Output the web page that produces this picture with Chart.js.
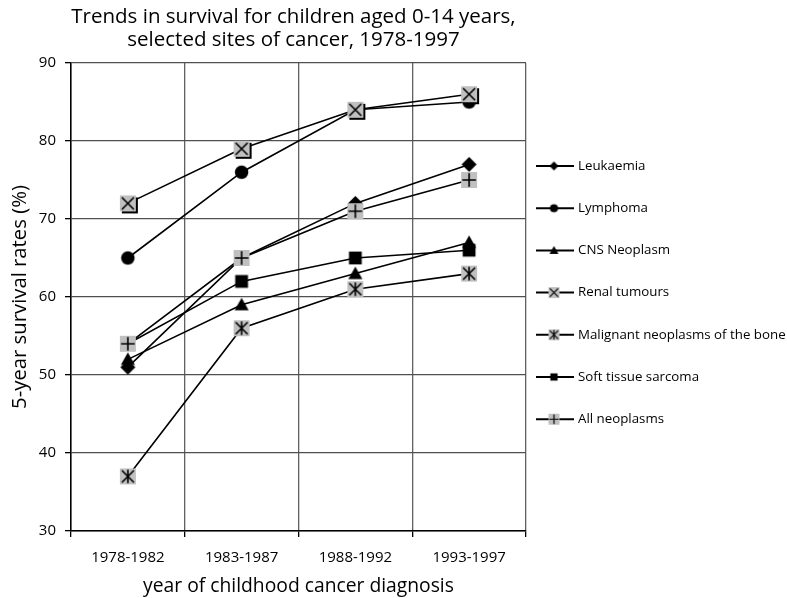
<!DOCTYPE html>
<html>
<head>
<meta charset="utf-8">
<script src="https://cdn.jsdelivr.net/npm/chart.js@4/dist/chart.umd.min.js"></script>
<style>
  html, body { margin: 0; padding: 0; background: #fff; }
  #wrap { width: 787px; height: 598px; }
</style>
</head>
<body>
<div id="wrap"><canvas id="c" width="787" height="598"></canvas></div>
<script>
const periods = ['1978-1982', '1983-1987', '1988-1992', '1993-1997'];
const leukaemia = [51, 65, 72, 77];
const lymphoma = [65, 76, 84, 85];
const cns = [52, 59, 63, 67];
const renal = [72, 79, 84, 86];
const bone = [37, 56, 61, 63];
const softTissue = [54, 62, 65, 66];
const allNeoplasms = [54, 65, 71, 75];
const yTicks = [30, 40, 50, 60, 70, 80, 90];
const titleLines = ['Trends in survival for children aged 0-14 years,', 'selected sites of cancer, 1978-1997'];

// draw a marker into its own little canvas so chart.js can use it as pointStyle
function makeMarker(type, s) {
  const pad = 3;
  const cv = document.createElement('canvas');
  cv.width = s + pad * 2; cv.height = s + pad * 2;
  const g = cv.getContext('2d');
  const c = cv.width / 2, h = s / 2;
  g.fillStyle = '#000'; g.strokeStyle = '#000';
  if (type == 'diamond') {
    g.beginPath(); g.moveTo(c, c - h); g.lineTo(c + h, c); g.lineTo(c, c + h); g.lineTo(c - h, c); g.closePath(); g.fill();
  } else if (type == 'circle') {
    g.beginPath(); g.arc(c, c, h * 0.9, 0, Math.PI * 2); g.fill();
  } else if (type == 'triangle') {
    g.beginPath(); g.moveTo(c, c - h); g.lineTo(c + h, c + h * 0.8); g.lineTo(c - h, c + h * 0.8); g.closePath(); g.fill();
  } else if (type == 'square') {
    g.fillRect(c - h * 0.8, c - h * 0.8, h * 1.6, h * 1.6);
  } else {
    // grey box with a glyph, renal one has a dark shadow in the plot
    if (type == 'xbox' && s > 12) { g.fillStyle = '#000'; g.fillRect(c - h + 2, c - h + 2, s, s); }
    g.fillStyle = '#c0c0c0';
    g.fillRect(c - h, c - h, s, s);
    g.lineWidth = s > 12 ? 1.6 : 1.2;
    const a = h * 0.75;
    g.beginPath();
    if (type == 'xbox' || type == 'star') {
      g.moveTo(c - a, c - a); g.lineTo(c + a, c + a);
      g.moveTo(c + a, c - a); g.lineTo(c - a, c + a);
    }
    if (type == 'star' || type == 'plus') {
      g.moveTo(c, c - h * 0.85); g.lineTo(c, c + h * 0.85);
    }
    if (type == 'plus') {
      g.moveTo(c - h * 0.85, c); g.lineTo(c + h * 0.85, c);
    }
    g.stroke();
  }
  return cv;
}

const series = [
  { label: 'Leukaemia', data: leukaemia, mk: 'diamond', size: 15 },
  { label: 'Lymphoma', data: lymphoma, mk: 'circle', size: 15 },
  { label: 'CNS Neoplasm', data: cns, mk: 'triangle', size: 14 },
  { label: 'Renal tumours', data: renal, mk: 'xbox', size: 16 },
  { label: 'Malignant neoplasms of the bone', data: bone, mk: 'star', size: 16 },
  { label: 'Soft tissue sarcoma', data: softTissue, mk: 'square', size: 16 },
  { label: 'All neoplasms', data: allNeoplasms, mk: 'plus', size: 16 }
];
series.forEach(s => {
  s.marker = makeMarker(s.mk, s.size);
  s.small = makeMarker(s.mk, ['xbox', 'star', 'plus'].includes(s.mk) ? 11 : 9);
});

const sideLegend = {
  id: 'sideLegend',
  afterDraw(chart) {
    const ctx = chart.ctx;
    const area = chart.chartArea;
    const x0 = area.right + 10;
    ctx.save();
    // title, centred over the plot
    ctx.fillStyle = '#000';
    ctx.textAlign = 'center';
    ctx.textBaseline = 'middle';
    ctx.font = '20.5px "Open Sans"';
    titleLines.forEach((t, i) => ctx.fillText(t, (area.left + area.right) / 2 - 5, 17 + i * 23.5));

    ctx.textAlign = 'left';
    ctx.font = '13.3px "Open Sans"';
    series.forEach((s, i) => {
      const y = 166 + i * 42.2;
      ctx.strokeStyle = '#000'; ctx.lineWidth = 2;
      ctx.beginPath(); ctx.moveTo(x0, y); ctx.lineTo(x0 + 38, y); ctx.stroke();
      const m = s.small;
      ctx.drawImage(m, x0 + 18 - m.width / 2, y - m.height / 2);
      ctx.fillStyle = '#000';
      ctx.fillText(s.label, x0 + 42, y);
    });
    ctx.restore();
  }
};

new Chart(document.getElementById('c'), {
  type: 'line',
  data: {
    labels: periods,
    // first series must end up on top, chart.js paints dataset 0 last
    datasets: series.map(s => ({
      label: s.label,
      data: s.data,
      borderColor: '#000',
      borderWidth: 1.6,
      pointStyle: s.marker,
      tension: 0
    })).reverse()
  },
  options: {
    responsive: false,
    animation: false,
    layout: { padding: { left: 8, right: 261, top: 63, bottom: 0 } },
    plugins: {
      legend: { display: false },
      tooltip: { enabled: false },
      title: { display: false }
    },
    scales: {
      x: {
        offset: true,
        afterFit: ax => { ax.height = 67; },
        grid: { offset: true, color: '#606060', lineWidth: 1.3, tickColor: '#000', tickLength: 6 },
        border: { color: '#000', width: 1.5 },
        ticks: { color: '#000', font: { family: 'Open Sans', size: 15 }, padding: 12 },
        title: { display: true, text: 'year of childhood cancer diagnosis', color: '#000', font: { family: 'Open Sans', size: 19.3 }, padding: { top: 0, bottom: 0 } }
      },
      y: {
        min: 30, max: 90,
        afterBuildTicks: ax => { ax.ticks = yTicks.map(v => ({ value: v })); },
        afterFit: ax => { ax.width = 63; },
        grid: { color: '#505050', lineWidth: 1.3, tickColor: '#000', tickLength: 6 },
        border: { color: '#000', width: 1.5 },
        ticks: { color: '#000', font: { family: 'Open Sans', size: 15 }, padding: 9 },
        title: { display: true, text: '5-year survival rates (%)', color: '#000', font: { family: 'Open Sans', size: 20.3 }, padding: { top: 0, bottom: 4 } }
      }
    }
  },
  plugins: [sideLegend]
});
</script>
</body>
</html>
